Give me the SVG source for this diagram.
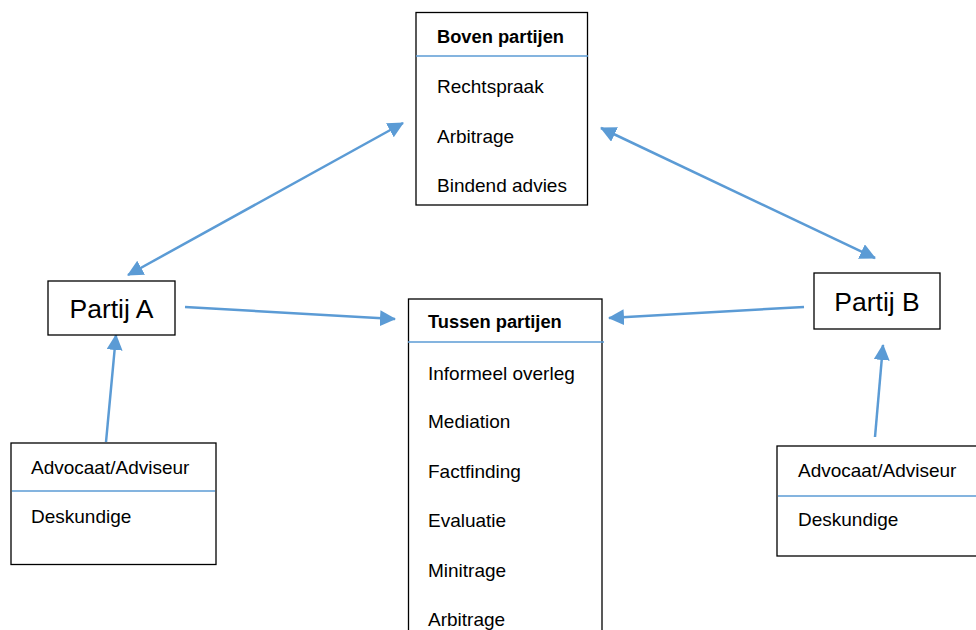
<svg xmlns="http://www.w3.org/2000/svg" width="976" height="630" viewBox="0 0 976 630">
<defs>
<style>
.box{fill:#fff;stroke:#000;stroke-width:1.3}
.div{stroke:#5B9BD5;stroke-width:1.5}
.t{font-family:"Liberation Sans",Arial,sans-serif;font-size:19px;fill:#000}
.b{font-weight:bold;font-size:18.3px}
.big{font-size:26.5px}
.c{fill:none;stroke:#5B9BD5;stroke-width:2.5}
</style>
<marker id="ah" markerUnits="userSpaceOnUse" markerWidth="16" markerHeight="16" refX="15" refY="8" orient="auto-start-reverse" viewBox="0 0 16 16">
<path d="M0,0 L16,8 L0,16 z" fill="#5B9BD5"/>
</marker>
</defs>
<rect width="976" height="630" fill="#fff"/>
<g id="connectors">
<line class="c" x1="128" y1="275" x2="403" y2="123" marker-start="url(#ah)" marker-end="url(#ah)"/>
<line class="c" x1="601" y1="128" x2="875" y2="258" marker-start="url(#ah)" marker-end="url(#ah)"/>
<line class="c" x1="185" y1="307" x2="395" y2="319" marker-end="url(#ah)"/>
<line class="c" x1="804" y1="307" x2="609" y2="318" marker-end="url(#ah)"/>
<line class="c" x1="106" y1="442" x2="116" y2="335" marker-end="url(#ah)"/>
<line class="c" x1="875" y1="437" x2="883" y2="345" marker-end="url(#ah)"/>
</g>
<g id="boven">
<rect class="box" x="416" y="12.5" width="171.5" height="192.5"/>
<line class="div" x1="416" y1="56" x2="588" y2="56"/>
<text class="t b" x="437" y="43">Boven partijen</text>
<text class="t" x="437" y="93">Rechtspraak</text>
<text class="t" x="437" y="143">Arbitrage</text>
<text class="t" x="437" y="192">Bindend advies</text>
</g>
<g id="tussen">
<rect class="box" x="408.5" y="299" width="193.5" height="340"/>
<line class="div" x1="408" y1="342" x2="604" y2="342"/>
<text class="t b" x="428" y="328">Tussen partijen</text>
<text class="t" x="428" y="380">Informeel overleg</text>
<text class="t" x="428" y="428">Mediation</text>
<text class="t" x="428" y="478">Factfinding</text>
<text class="t" x="428" y="527">Evaluatie</text>
<text class="t" x="428" y="577">Minitrage</text>
<text class="t" x="428" y="626">Arbitrage</text>
</g>
<g id="partijA">
<rect class="box" x="48" y="281" width="127" height="54"/>
<text class="t big" x="111.5" y="318" text-anchor="middle">Partij A</text>
</g>
<g id="partijB">
<rect class="box" x="814" y="273" width="126" height="56"/>
<text class="t big" x="877" y="311" text-anchor="middle">Partij B</text>
</g>
<g id="adviseurA">
<rect class="box" x="11" y="443" width="205" height="121.5"/>
<line class="div" x1="12" y1="491" x2="215" y2="491"/>
<text class="t" x="31" y="474">Advocaat/Adviseur</text>
<text class="t" x="31" y="523">Deskundige</text>
</g>
<g id="adviseurB">
<rect class="box" x="777" y="446" width="210" height="110"/>
<line class="div" x1="778" y1="496" x2="976" y2="496"/>
<text class="t" x="798" y="477">Advocaat/Adviseur</text>
<text class="t" x="798" y="526">Deskundige</text>
</g>
</svg>
